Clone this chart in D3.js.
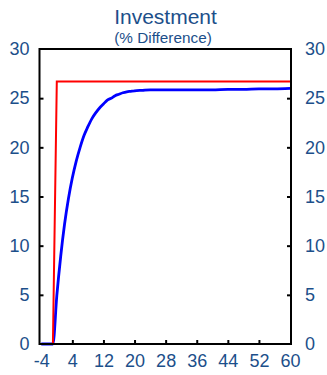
<!DOCTYPE html>
<html><head><meta charset="utf-8">
<script src="https://cdn.jsdelivr.net/npm/d3@7"></script>
<style>html,body{margin:0;padding:0;background:#fff;}svg{display:block;}</style>
</head><body>
<script>
// Data
const quarters = [-4,-3,-2,-1,0,1,2,3,4,5,6,7,8,9,10,11,12,13,14,15,16,17,18,19,20,22,24,28,32,36,40,44,48,52,56,60];
const blueValues = [0,0,0,0,4.9,8.9,12.2,14.8,16.9,18.6,20.0,21.2,22.1,22.9,23.5,24.0,24.4,24.8,25.0,25.25,25.4,25.55,25.65,25.7,25.75,25.8,25.85,25.85,25.85,25.85,25.85,25.9,25.9,25.95,25.95,26.0];
const redQuarters = [-4,-1,0,60];
const redValues = [0,0,26.7,26.7];
const xTicks = [-4,4,12,20,28,36,44,52,60];
const yTicks = [0,5,10,15,20,25,30];
const title = "Investment";
const subtitle = "(% Difference)";

const W = 327, H = 375;
const svg = d3.select("body").append("svg").attr("width", W).attr("height", H);
const pL = 39.5, pR = 291, pT = 49, pB = 344;
const x = d3.scaleLinear().domain([-4.45, 60.25]).range([pL, pR]);
const y = d3.scaleLinear().domain([0, 30]).range([pB, pT]);
const txtColor = "#1c4f8a";
const font = "'Liberation Sans', Arial, sans-serif";

svg.append("text").attr("text-anchor", "middle").attr("x", 165.5).attr("y", 24)
  .attr("font-family", font).attr("fill", txtColor).attr("font-size", 21).text(title);
svg.append("text").attr("text-anchor", "middle").attr("x", 163).attr("y", 43.3)
  .attr("font-family", font).attr("fill", txtColor).attr("font-size", 15.3).text(subtitle);

// lines
const lineB = d3.line().x((d,i) => x(quarters[i])).y(d => y(d)).curve(d3.curveMonotoneX);
svg.append("path").datum(blueValues).attr("d", lineB).attr("fill", "none")
  .attr("stroke", "#0000ff").attr("stroke-width", 2.8);
const lineR = d3.line().x((d,i) => x(redQuarters[i])).y(d => y(d));
svg.append("path").datum(redValues).attr("d", lineR).attr("fill", "none")
  .attr("stroke", "#ff0000").attr("stroke-width", 2);

// axes
const fmt = d => String(d);
const gL = svg.append("g").attr("transform", `translate(${pL},0)`)
  .call(d3.axisLeft(y).tickValues(yTicks).tickFormat(fmt).tickSizeInner(-4).tickSizeOuter(0).tickPadding(10));
const gR = svg.append("g").attr("transform", `translate(${pR},0)`)
  .call(d3.axisRight(y).tickValues(yTicks).tickFormat(fmt).tickSizeInner(-4).tickSizeOuter(0).tickPadding(14));
const gB = svg.append("g").attr("transform", `translate(0,${pB})`)
  .call(d3.axisBottom(x).tickValues(xTicks).tickFormat(fmt).tickSizeInner(-4).tickSizeOuter(0).tickPadding(10));
[gL, gR, gB].forEach(g => {
  g.select(".domain").remove();
  g.selectAll(".tick line").attr("stroke", "#000").attr("stroke-width", 2);
  g.selectAll(".tick text").attr("font-family", font).attr("font-size", 18).attr("fill", txtColor);
});
gB.selectAll(".tick line").filter(d => d === -4 || d === 60).remove();
gL.selectAll(".tick line").filter(d => d === 0 || d === 30).remove();
gR.selectAll(".tick line").filter(d => d === 0 || d === 30).remove();
gB.selectAll(".tick text").attr("dy", "0.71em");

// frame
svg.append("rect").attr("x", pL).attr("y", pT).attr("width", pR - pL).attr("height", pB - pT)
  .attr("fill", "none").attr("stroke", "#000").attr("stroke-width", 2);
</script>
</body></html>
